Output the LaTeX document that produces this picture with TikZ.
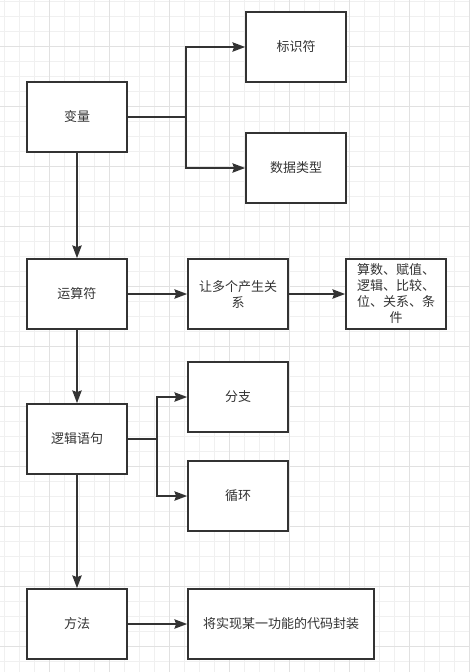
\documentclass[tikz,border=0pt]{standalone}
\usepackage{fontspec}
\newfontfamily\cjk{Noto Sans CJK SC}
\usetikzlibrary{arrows.meta}
\definecolor{ink}{HTML}{333333}
\definecolor{gridminor}{HTML}{F0F0F0}
\definecolor{gridmajor}{HTML}{E1E1E1}
\begin{document}
\begin{tikzpicture}[x=0.75pt,y=-0.75pt,
  box/.style={draw=ink,line width=1.3pt,fill=white,minimum width=75pt,minimum height=52.5pt,inner sep=0pt,
    font=\cjk\fontsize{9.75}{12}\selectfont,text=ink,align=center},
  arr/.style={draw=ink,line width=1.3pt,-{Stealth[length=9.5pt,width=7pt,inset=1.2pt]}},
  conn/.style={draw=ink,line width=1.3pt}]
\useasboundingbox (0,0) rectangle (470,672);
\fill[white] (0,0) rectangle (470,672);
% grid
\foreach \k in {0,...,44} {
  \pgfmathsetmacro\yy{1+15*\k}
  \draw[gridminor,line width=0.75pt] (0,\yy) -- (470,\yy);
}
\foreach \k in {0,...,31} {
  \pgfmathsetmacro\xx{4+15*\k}
  \draw[gridminor,line width=0.75pt] (\xx,0) -- (\xx,672);
}
\foreach \k in {0,...,10} {
  \pgfmathsetmacro\yy{46+60*\k}
  \draw[gridmajor,line width=0.75pt] (0,\yy) -- (470,\yy);
}
\foreach \k in {0,...,7} {
  \pgfmathsetmacro\xx{49+60*\k}
  \draw[gridmajor,line width=0.75pt] (\xx,0) -- (\xx,672);
}
% nodes
\node[box] (A) at (77,117) {变量};
\node[box] (B) at (296,47) {标识符};
\node[box] (C) at (296,168) {数据类型};
\node[box] (D) at (77,294) {运算符};
\node[box] (E) at (238,294) {让多个产生关\\系};
\node[box] (F) at (396,294) {算数、赋值、\\逻辑、比较、\\位、关系、条\\件};
\node[box] (G) at (77,439) {逻辑语句};
\node[box] (H) at (238,397) {分支};
\node[box] (I) at (238,496) {循环};
\node[box] (J) at (77,624) {方法};
\node[box,minimum width=139.5pt] (K) at (281,624) {将实现某一功能的代码封装};
% junctions
\coordinate (j1) at (186,117);
\coordinate (j2) at (157,439);
% connectors
\draw[conn] (A.east) -- (j1);
\draw[arr] (j1) |- (B.west);
\draw[arr] (j1) |- (C.west);
\draw[arr] (A.south) -- (D.north);
\draw[arr] (D.east) -- (E.west);
\draw[arr] (E.east) -- (F.west);
\draw[arr] (D.south) -- (G.north);
\draw[conn] (G.east) -- (j2);
\draw[arr] (j2) |- (H.west);
\draw[arr] (j2) |- (I.west);
\draw[arr] (G.south) -- (J.north);
\draw[arr] (J.east) -- (K.west);
\end{tikzpicture}
\end{document}
